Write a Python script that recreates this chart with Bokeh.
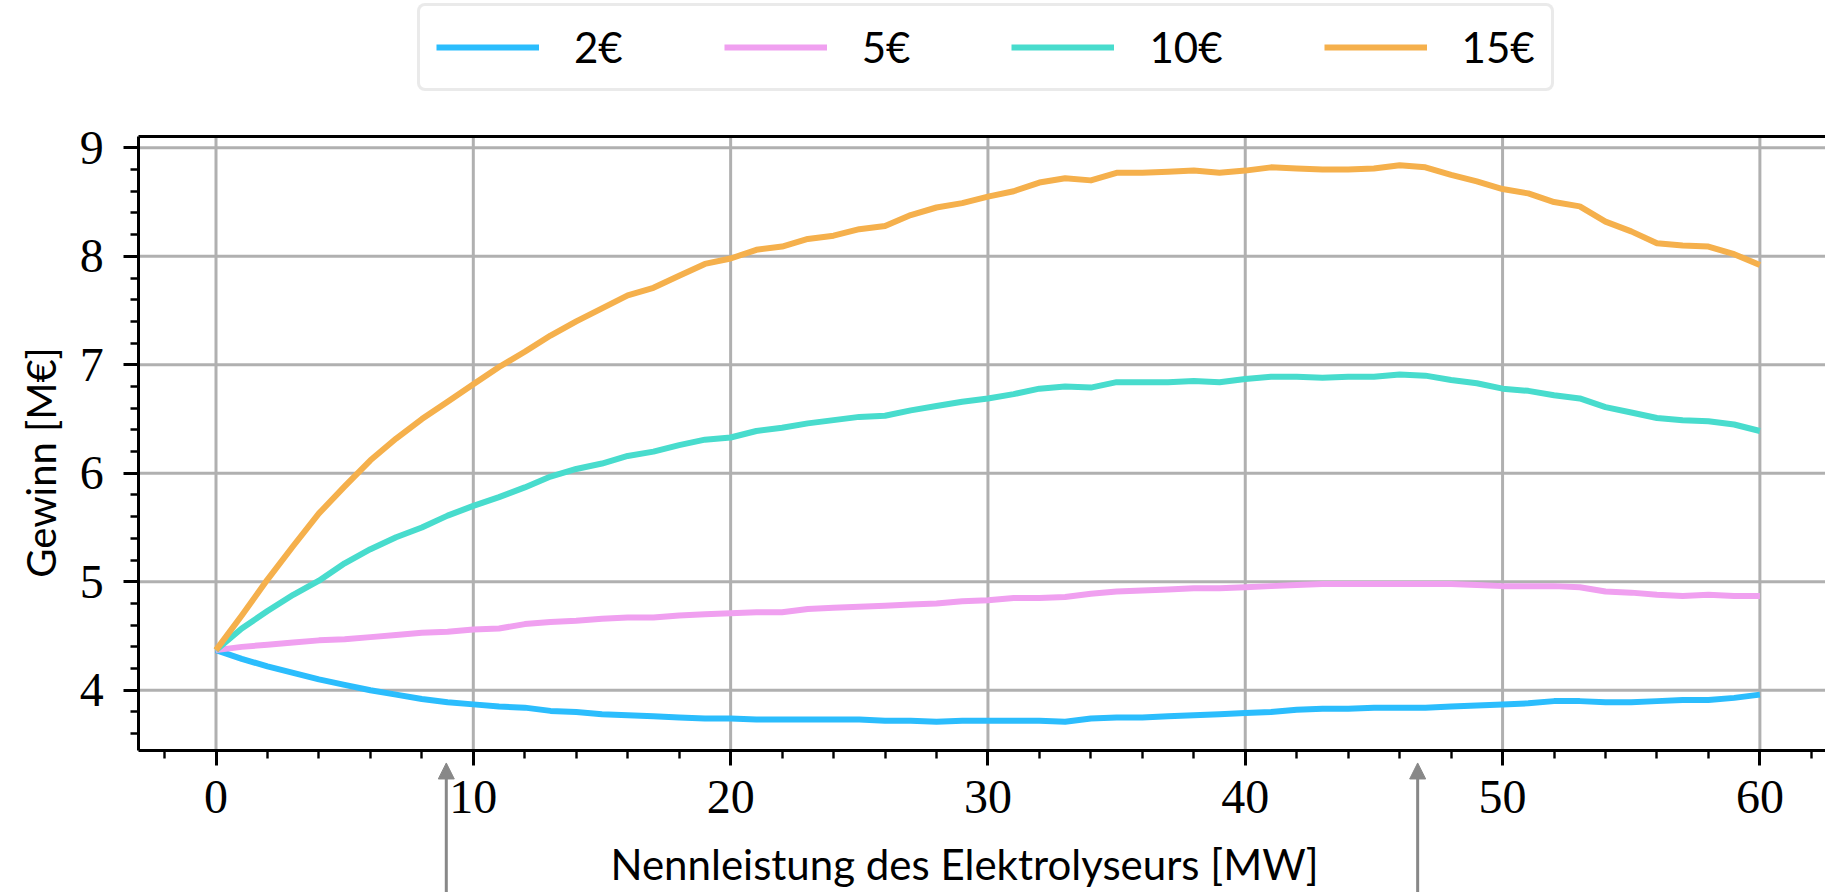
from bokeh.plotting import figure
from bokeh.models import (Range1d, LinearAxis, SingleIntervalTicker, FixedTicker, Legend,
                          LegendItem, Arrow, NormalHead, Label)
from bokeh.embed import file_html
from bokeh.resources import INLINE

# Nennleistung des Elektrolyseurs [MW]
leistung_mw = list(range(61))

# Gewinn [M€] je Wasserstoffpreis
gewinn_2 = [4.37, 4.29, 4.22, 4.16, 4.10, 4.05, 4.00, 3.96, 3.92, 3.89,
            3.87, 3.85, 3.84, 3.81, 3.80, 3.78, 3.77, 3.76, 3.75, 3.74,
            3.74, 3.73, 3.73, 3.73, 3.73, 3.73, 3.72, 3.72, 3.71, 3.72,
            3.72, 3.72, 3.72, 3.71, 3.74, 3.75, 3.75, 3.76, 3.77, 3.78,
            3.79, 3.80, 3.82, 3.83, 3.83, 3.84, 3.84, 3.84, 3.85, 3.86,
            3.87, 3.88, 3.90, 3.90, 3.89, 3.89, 3.90, 3.91, 3.91, 3.93,
            3.96]
gewinn_5 = [4.37, 4.40, 4.42, 4.44, 4.46, 4.47, 4.49, 4.51, 4.53, 4.54,
            4.56, 4.57, 4.61, 4.63, 4.64, 4.66, 4.67, 4.67, 4.69, 4.70,
            4.71, 4.72, 4.72, 4.75, 4.76, 4.77, 4.78, 4.79, 4.80, 4.82,
            4.83, 4.85, 4.85, 4.86, 4.89, 4.91, 4.92, 4.93, 4.94, 4.94,
            4.95, 4.96, 4.97, 4.98, 4.98, 4.98, 4.98, 4.98, 4.98, 4.97,
            4.96, 4.96, 4.96, 4.95, 4.91, 4.90, 4.88, 4.87, 4.88, 4.87,
            4.87]
gewinn_10 = [4.37, 4.57, 4.73, 4.88, 5.01, 5.17, 5.30, 5.41, 5.50, 5.61,
             5.70, 5.78, 5.87, 5.97, 6.04, 6.09, 6.16, 6.20, 6.26, 6.31,
             6.33, 6.39, 6.42, 6.46, 6.49, 6.52, 6.53, 6.58, 6.62, 6.66,
             6.69, 6.73, 6.78, 6.80, 6.79, 6.84, 6.84, 6.84, 6.85, 6.84,
             6.87, 6.89, 6.89, 6.88, 6.89, 6.89, 6.91, 6.90, 6.86, 6.83,
             6.78, 6.76, 6.72, 6.69, 6.61, 6.56, 6.51, 6.49, 6.48, 6.45,
             6.39]
gewinn_15 = [4.37, 4.69, 5.02, 5.33, 5.63, 5.88, 6.12, 6.32, 6.50, 6.66,
             6.82, 6.98, 7.12, 7.27, 7.40, 7.52, 7.64, 7.71, 7.82, 7.93,
             7.98, 8.06, 8.09, 8.16, 8.19, 8.25, 8.28, 8.38, 8.45, 8.49,
             8.55, 8.60, 8.68, 8.72, 8.70, 8.77, 8.77, 8.78, 8.79, 8.77,
             8.79, 8.82, 8.81, 8.80, 8.80, 8.81, 8.84, 8.82, 8.75, 8.69,
             8.62, 8.58, 8.50, 8.46, 8.32, 8.23, 8.12, 8.10, 8.09, 8.02,
             7.92]

preise = ["2€", "5€", "10€", "15€"]
farben = ["#2bbdfd", "#f0a0f0", "#48dccd", "#f5b04c"]
reihen = [gewinn_2, gewinn_5, gewinn_10, gewinn_15]

# Achsenteilung
x_ticks = [0, 10, 20, 30, 40, 50, 60]
y_ticks = [4, 5, 6, 7, 8, 9]

# markierte Leistungen (Pfeile unter der x-Achse)
pfeil_x = [8.95, 46.7]

# Achsenkasten in Datenkoordinaten
X0, X1 = -3.0, 62.55
Y0, Y1 = 3.445, 9.107

SERIF = "Liberation Serif"
SANS = "Lato"
GRID = "#b0b0b0"

# Die Zeichenfläche umfasst das ganze Bild; Achsen liegen fest im Inneren.
p = figure(width=1825, height=892, output_backend="svg", toolbar_location=None,
           x_range=Range1d(-8.375, X1), y_range=Range1d(2.136, 10.358),
           x_axis_type=None, y_axis_type=None,
           min_border_left=0, min_border_right=0,
           min_border_top=0, min_border_bottom=0)
p.outline_line_color = None
p.background_fill_color = "white"
p.border_fill_color = "white"


def ticks_style(ax, standoff):
    ax.major_tick_in = 0
    ax.major_tick_out = 15
    ax.major_tick_line_width = 3
    ax.minor_tick_in = 0
    ax.minor_tick_out = 8
    ax.minor_tick_line_width = 2.4
    ax.major_label_text_font = SERIF
    ax.major_label_text_font_size = "48px"
    ax.major_label_text_color = "black"
    ax.major_label_standoff = standoff


def spine(loc, side, bounds):
    ax = LinearAxis(ticker=FixedTicker(ticks=[]), fixed_location=loc, bounds=bounds,
                    axis_line_color="black", axis_line_width=3)
    p.add_layout(ax, side)


# Gitterlinien innerhalb des Achsenkastens
p.segment(x0=x_ticks, y0=[Y0] * len(x_ticks), x1=x_ticks, y1=[Y1] * len(x_ticks),
          line_color=GRID, line_width=3)
p.segment(x0=[X0] * len(y_ticks), y0=y_ticks, x1=[X1] * len(y_ticks), y1=y_ticks,
          line_color=GRID, line_width=3)

xaxis = LinearAxis(ticker=SingleIntervalTicker(interval=10, num_minor_ticks=5),
                   fixed_location=Y0, bounds=(-3.85, 62.05),
                   axis_label="Nennleistung des Elektrolyseurs [MW]",
                   axis_line_color=None)
ticks_style(xaxis, 16)
xaxis.axis_label_text_font = SANS
xaxis.axis_label_text_font_size = "42px"
xaxis.axis_label_text_font_style = "normal"
xaxis.axis_label_text_color = "black"
xaxis.axis_label_standoff = 22
p.add_layout(xaxis, "below")

yaxis = LinearAxis(ticker=SingleIntervalTicker(interval=1, num_minor_ticks=5),
                   fixed_location=X0, bounds=(Y0, Y1),
                   axis_line_color="black", axis_line_width=3)
ticks_style(yaxis, 20)
p.add_layout(yaxis, "left")

spine(Y0, "below", (X0, X1))
spine(Y1, "above", (X0, X1))

p.add_layout(Label(x=-6.82, y=6.10, text="Gewinn [M€]", angle=90, angle_units="deg",
                   text_align="center", text_baseline="middle", text_font=SANS,
                   text_font_size="40px", text_color="black"))

items = []
for name, farbe, werte in zip(preise, farben, reihen):
    r = p.line(leistung_mw, werte, line_color=farbe, line_width=6,
               line_join="round")
    items.append(LegendItem(label=name, renderers=[r]))

legend = Legend(items=items, orientation="horizontal", location=(417, 801),
                label_text_font=SANS, label_text_font_size="42px",
                label_text_color="black", label_standoff=35,
                glyph_width=103, glyph_height=44, label_height=44,
                spacing=101, padding=16, margin=0,
                border_line_color="#d6d6d6", border_line_width=3,
                border_radius=8,
                background_fill_color="white", background_fill_alpha=1.0)
p.add_layout(legend, "center")

for xa in pfeil_x:
    p.add_layout(Arrow(end=NormalHead(size=16, fill_color="#888888",
                                      line_color="#888888", line_width=1),
                       x_start=xa, y_start=2.0, x_end=xa, y_end=3.33,
                       line_color="#888888", line_width=3))

open("out.html", "w").write(file_html(p, INLINE))
